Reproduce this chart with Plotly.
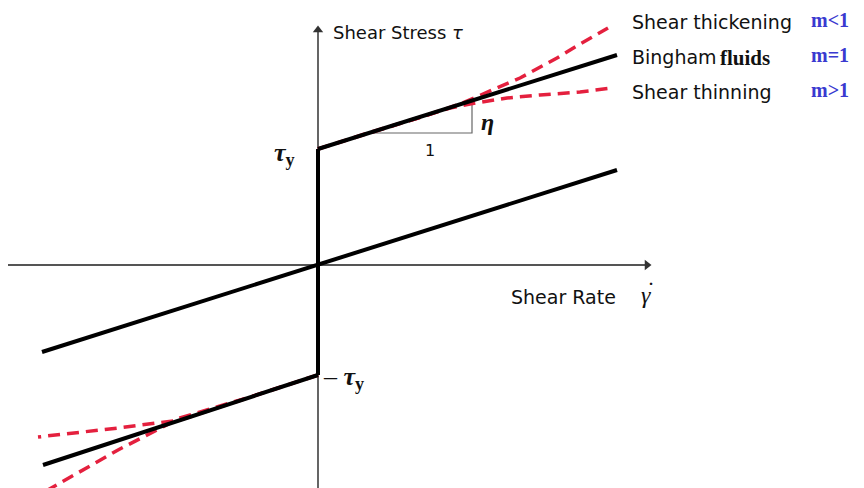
import plotly.graph_objects as go

# Yield stresses (shear-stress axis)
tau_y_pos = 1.16
tau_y_neg = -1.10

# Bingham plastic branches (straight lines of slope eta)
bingham_up_x = [0.0, 2.99]
bingham_up_y = [1.16, 2.10]
bingham_lo_x = [0.0, -2.75]
bingham_lo_y = [-1.10, -2.00]

# Newtonian fluid through the origin
newton_x = [-2.76, 2.99]
newton_y = [-0.87, 0.95]

# Shear thickening / thinning branches (dashed)
thick_up_x = [0.0, 1.0, 1.42, 1.72, 2.02, 2.39, 2.62, 2.90]
thick_up_y = [1.16, 1.47, 1.61, 1.74, 1.87, 2.07, 2.21, 2.37]
thin_up_x = [0.0, 0.5, 1.0, 1.32, 1.52, 1.89, 2.22, 2.62, 2.94]
thin_up_y = [1.16, 1.32, 1.47, 1.57, 1.61, 1.67, 1.70, 1.73, 1.77]
thin_lo_x = [0.0, -0.68, -1.38, -2.0, -2.80]
thin_lo_y = [-1.10, -1.32, -1.55, -1.63, -1.72]
thick_lo_x = [0.0, -0.68, -1.38, -2.0, -2.72]
thick_lo_y = [-1.10, -1.32, -1.53, -1.85, -2.26]

# Slope triangle (run 1, rise eta)
tri_x = [0.51, 1.54, 1.54]
tri_y = [1.32, 1.32, 1.644]

legend_labels = ["Shear thickening", "Bingham", "Shear thinning"]
legend_y = [2.43, 2.08, 1.73]
exponent_labels = ["m<1", "m=1", "m>1"]

RED = "#e4203e"
BLACK = "#000000"
AXIS = "#555555"
SANS = "DejaVu Sans"
SERIF = "Liberation Serif"

fig = go.Figure()

def line(x, y, color, width, dash="solid"):
    fig.add_trace(go.Scatter(x=x, y=y, mode="lines", hoverinfo="skip",
                             line=dict(color=color, width=width, dash=dash)))

# axes lines with arrowheads
line([0, 0], [-2.3, 2.33], AXIS, 1.8)
line([-3.10, 3.28], [0, 0], AXIS, 1.8)
fig.add_trace(go.Scatter(x=[3.29, 0], y=[0, 2.35], mode="markers", hoverinfo="skip",
                         marker=dict(symbol=["triangle-right", "triangle-up"],
                                     size=9, color="#333333")))

# slope triangle
line(tri_x, tri_y, "#666666", 1.2)

# dashed power-law branches underneath the Bingham lines
for xs, ys in [(thick_up_x, thick_up_y), (thin_up_x, thin_up_y),
               (thin_lo_x, thin_lo_y), (thick_lo_x, thick_lo_y)]:
    line(xs, ys, RED, 3.5, "12px,7px")

# Bingham and Newtonian lines
line(bingham_up_x, bingham_up_y, BLACK, 4)
line(bingham_lo_x, bingham_lo_y, BLACK, 4)
line([0, 0], [tau_y_neg, tau_y_pos], BLACK, 4)
line(newton_x, newton_y, BLACK, 4)

ann = []

def text(x, y, s, size, family=SANS, color="#111111", xanchor="left"):
    ann.append(dict(x=x, y=y, text=s, showarrow=False, xanchor=xanchor, yanchor="middle",
                    font=dict(family=family, size=size, color=color)))

text(0.13, 2.33, "Shear Stress <i>τ</i>", 18)
text(1.91, -0.32, "Shear Rate", 19)
text(3.28, -0.30, "<i>γ</i>", 24, SERIF, xanchor="center")
text(3.325, -0.25, "˙", 24, SERIF, xanchor="center")
text(-0.46, 1.11, "<b><i>τ</i><sub>y</sub></b>", 26, SERIF)
text(0.03, -1.13, "– <b><i>τ</i><sub>y</sub></b>", 26, SERIF)
text(1.12, 1.15, "1", 16, xanchor="center")
text(1.61, 1.43, "<b><i>η</i></b>", 24, SERIF)

for lab, yy in zip(legend_labels, legend_y):
    text(3.12, yy, lab, 19)
text(4.00, legend_y[1] - 0.005, "<b>fluids</b>", 21, SERIF)
for lab, yy in zip(exponent_labels, legend_y):
    text(4.91, yy + 0.02, "<b>" + lab.replace("<", "&lt;").replace(">", "&gt;") + "</b>",
         20, SERIF, color="#3a3ad0")

fig.update_layout(
    width=864, height=488,
    margin=dict(l=0, r=0, t=0, b=0),
    paper_bgcolor="white", plot_bgcolor="white",
    showlegend=False,
    xaxis=dict(range=[-3.18, 5.46], visible=False, fixedrange=True),
    yaxis=dict(range=[-2.23, 2.65], visible=False, fixedrange=True),
    annotations=ann,
)

fig.write_html("out.html")
